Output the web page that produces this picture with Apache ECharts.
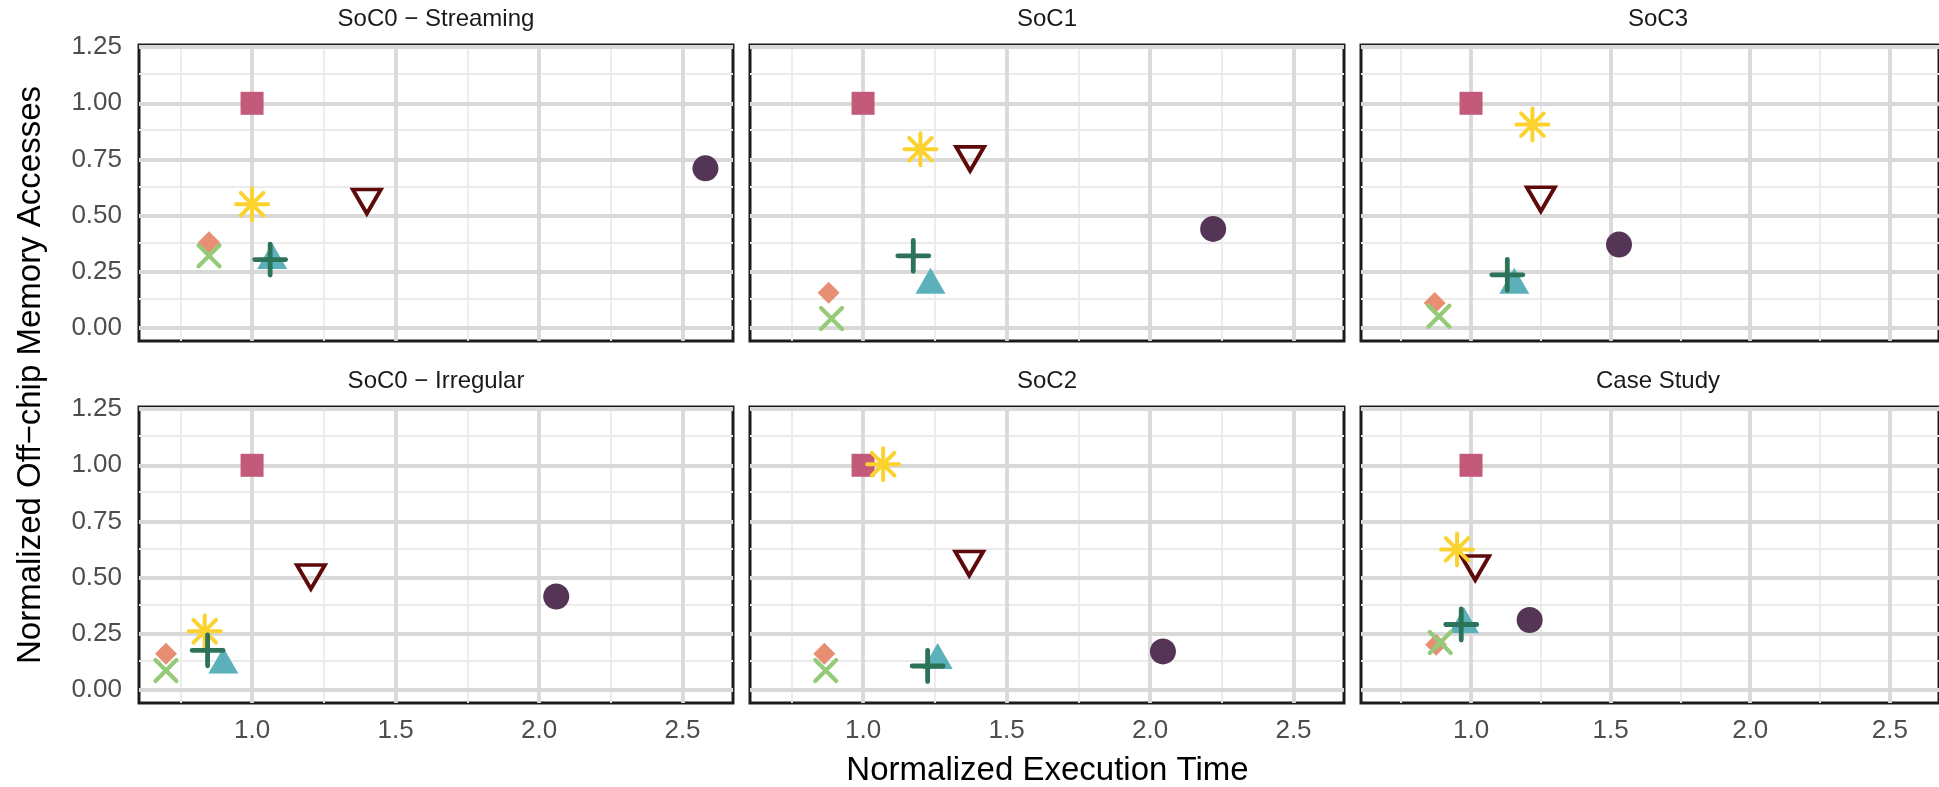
<!DOCTYPE html>
<html><head><meta charset="utf-8">
<script src="https://cdn.jsdelivr.net/npm/echarts@6/dist/echarts.min.js"></script>
<style>html,body{margin:0;padding:0;background:#fff}#c{width:1939px;height:787px}</style>
</head><body><div id="c"></div>
<script>
// Panels (row-major: top row then bottom row)
const panelTitles = ['SoC0 − Streaming', 'SoC1', 'SoC3', 'SoC0 − Irregular', 'SoC2', 'Case Study'];

// Tick labels
const xTicks = [1.0, 1.5, 2.0, 2.5];
const xMinor = [0.75, 1.25, 1.75, 2.25];
const yTicks = [0, 0.25, 0.5, 0.75, 1.0, 1.25];
const yMinor = [0.125, 0.375, 0.625, 0.875, 1.125];

// Series values, one entry per panel (same order as panelTitles)
const squareX   = [1.00, 1.00, 1.00, 1.00, 1.00, 1.00];
const squareY   = [1.00, 1.00, 1.00, 1.00, 1.00, 1.00];
const circleX   = [2.58, 2.22, 1.53, 2.06, 2.045, 1.21];
const circleY   = [0.71, 0.44, 0.37, 0.415, 0.17, 0.31];
const downTriX  = [1.40, 1.373, 1.25, 1.205, 1.37, 1.015];
const downTriY  = [0.58, 0.77, 0.59, 0.52, 0.58, 0.56];
const asteriskX = [1.00, 1.20, 1.22, 0.835, 1.07, 0.95];
const asteriskY = [0.55, 0.795, 0.905, 0.26, 1.005, 0.625];
const triangleX = [1.07, 1.235, 1.155, 0.90, 1.26, 0.975];
const triangleY = [0.30, 0.19, 0.19, 0.11, 0.13, 0.29];
const plusX     = [1.063, 1.175, 1.13, 0.845, 1.225, 0.965];
const plusY     = [0.303, 0.32, 0.235, 0.175, 0.105, 0.29];
const diamondX  = [0.85, 0.88, 0.87, 0.70, 0.865, 0.875];
const diamondY  = [0.38, 0.155, 0.11, 0.16, 0.16, 0.20];
const crossX    = [0.85, 0.89, 0.885, 0.70, 0.87, 0.89];
const crossY    = [0.32, 0.04, 0.05, 0.085, 0.085, 0.21];

const FONT = 'Liberation Sans, Arial, sans-serif';
const chart = echarts.init(document.getElementById('c'), null, {renderer: 'canvas'});

const colLeft = [139, 750, 1361];
const rowTop = [45, 407];
const PW = 594, PH = 296;

const markers = [
  {name: 'square', xs: squareX, ys: squareY, symbol: 'rect', size: 23, style: {color: '#c35a79'}},
  {name: 'circle', xs: circleX, ys: circleY, symbol: 'circle', size: 26, style: {color: '#553555'}},
  {name: 'downTriangle', xs: downTriX, ys: downTriY, symbol: 'path://M-1,0L1,0L0,1.732Z', size: [28, 24], offset: [0, 4],
    style: {color: 'none', borderColor: '#5e0a0a', borderWidth: 3.8, borderJoin: 'miter'}},
  {name: 'asterisk', xs: asteriskX, ys: asteriskY, symbol: 'path://M0,-1L0,1M-1,0L1,0M-0.707,-0.707L0.707,0.707M-0.707,0.707L0.707,-0.707', size: 32,
    style: {color: 'none', borderColor: '#fcd32e', borderWidth: 4, borderCap: 'round'}},
  {name: 'triangle', xs: triangleX, ys: triangleY, symbol: 'triangle', size: [30, 26], offset: [0, -4.3], style: {color: '#5bb0ba'}},
  {name: 'plus', xs: plusX, ys: plusY, symbol: 'path://M0,-1L0,1M-1,0L1,0', size: 31,
    style: {color: 'none', borderColor: '#2d7358', borderWidth: 4.8, borderCap: 'round'}},
  {name: 'diamond', xs: diamondX, ys: diamondY, symbol: 'diamond', size: 22, style: {color: '#e88f73'}},
  {name: 'cross', xs: crossX, ys: crossY, symbol: 'path://M-1,-1L1,1M-1,1L1,-1', size: 21,
    style: {color: 'none', borderColor: '#94ca78', borderWidth: 4.2, borderCap: 'round'}}
];

const grids = [], xAxes = [], yAxes = [], series = [], titles = [];
panelTitles.forEach((t, i) => {
  const col = i % 3, row = Math.floor(i / 3);
  grids.push({left: colLeft[col], top: rowTop[row], width: PW, height: PH, show: true,
    borderColor: '#1c1c1c', borderWidth: 3, backgroundColor: 'transparent', containLabel: false});
  xAxes.push({type: 'value', gridIndex: i, min: 0.606, max: 2.676,
    axisLine: {show: false}, axisTick: {show: false}, splitLine: {show: false},
    axisLabel: {show: row === 1, customValues: xTicks, formatter: v => v.toFixed(1),
      fontFamily: FONT, fontSize: 26, color: '#4d4d4d', margin: 15}});
  yAxes.push({type: 'value', gridIndex: i, min: -0.06, max: 1.26,
    axisLine: {show: false}, axisTick: {show: false}, splitLine: {show: false},
    axisLabel: {show: col === 0, customValues: yTicks, formatter: v => v.toFixed(2),
      fontFamily: FONT, fontSize: 26, color: '#4d4d4d', margin: 17}});
  titles.push({text: t, left: colLeft[col] + PW / 2, top: rowTop[row] - 38, textAlign: 'center', padding: 0,
    textStyle: {fontFamily: FONT, fontSize: 24, fontWeight: 'normal', color: '#1a1a1a'}});
  const gl = [];
  const minorStyle = {color: '#ebebeb', width: 1.8, type: 'solid'};
  const majorStyle = {color: '#d9d9d9', width: 3.8, type: 'solid'};
  xMinor.forEach(v => gl.push({xAxis: v, lineStyle: minorStyle}));
  yMinor.forEach(v => gl.push({yAxis: v, lineStyle: minorStyle}));
  xTicks.forEach(v => gl.push({xAxis: v, lineStyle: majorStyle}));
  yTicks.forEach(v => gl.push({yAxis: v, lineStyle: majorStyle}));
  series.push({type: 'line', xAxisIndex: i, yAxisIndex: i, data: [], z: 1, silent: true,
    markLine: {silent: true, z: 1, zlevel: 0, symbol: ['none', 'none'], label: {show: false}, animation: false, data: gl}});
  markers.forEach(m => {
    series.push({name: m.name, type: 'scatter', xAxisIndex: i, yAxisIndex: i, z: 10,
      symbol: m.symbol, symbolSize: m.size, symbolOffset: m.offset || [0, 0],
      itemStyle: Object.assign({opacity: 1}, m.style),
      data: [[m.xs[i], m.ys[i]]]});
  });
});

chart.setOption({
  animation: false,
  backgroundColor: '#ffffff',
  title: titles,
  grid: grids,
  xAxis: xAxes,
  yAxis: yAxes,
  series: series,
  graphic: [
    {type: 'text', x: 1047.5, y: 771, style: {text: 'Normalized Execution Time', font: '33px ' + FONT,
      fill: '#000', textAlign: 'center', textVerticalAlign: 'middle'}},
    {type: 'text', x: 31, y: 375, rotation: Math.PI / 2, style: {text: 'Normalized Off−chip Memory Accesses',
      font: '33px ' + FONT, fill: '#000', textAlign: 'center', textVerticalAlign: 'middle'}}
  ]
});
</script></body></html>
